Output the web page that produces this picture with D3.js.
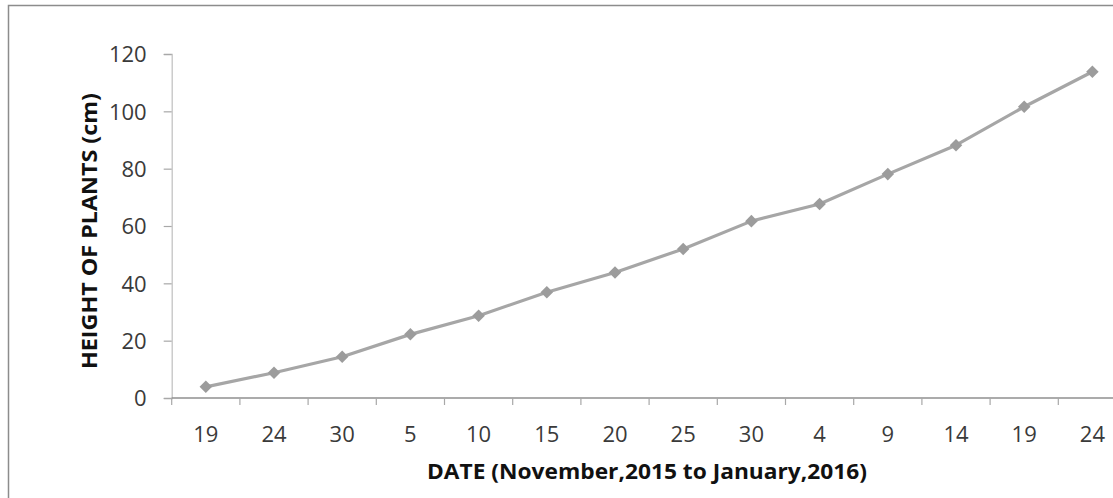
<!DOCTYPE html>
<html>
<head>
<meta charset="utf-8">
<script src="https://cdn.jsdelivr.net/npm/d3@7"></script>
<style>
  html, body { margin: 0; padding: 0; background: #fff; overflow: hidden; }
  svg { display: block; }
</style>
</head>
<body>
<svg id="chart" width="1113" height="498"></svg>
<script>
// Measurement dates (day of month, Nov 2015 – Jan 2016)
const dates = ["19", "24", "30", "5", "10", "15", "20", "25", "30", "4", "9", "14", "19", "24"];
// Mean plant height on each date (cm)
const heights = [3.9, 8.8, 14.4, 22.2, 28.7, 36.9, 43.8, 52.0, 61.7, 67.7, 78.1, 88.2, 101.6, 113.8];
// Y-axis tick values
const yTicks = [0, 20, 40, 60, 80, 100, 120];

const svg = d3.select("#chart");

// Chart frame (runs past the right and bottom edges)
svg.append("rect")
  .attr("x", 8.5).attr("y", 5.5)
  .attr("width", 1300).attr("height", 700)
  .attr("fill", "#fff")
  .attr("stroke", "#8c8c8c")
  .attr("stroke-width", 1.5);

const plotLeft = 171.7, plotRight = 1126.5, plotTop = 54, plotBottom = 398;

const idx = d3.range(dates.length);
const x = d3.scaleBand().domain(idx).range([plotLeft, plotRight]).paddingInner(0).paddingOuter(0);
const y = d3.scaleLinear().domain([0, 120]).range([plotBottom, plotTop]);

const tickFont = "'Open Sans', 'Liberation Sans', sans-serif";

// Y axis
const yAxis = d3.axisLeft(y).tickValues(yTicks).tickSize(8).tickPadding(17);
const gy = svg.append("g").attr("transform", `translate(${plotLeft},0)`).call(yAxis);
gy.select(".domain").attr("stroke", "#c4c4c4").attr("stroke-width", 1.3);
gy.selectAll(".tick line").attr("stroke", "#a8a8a8").attr("stroke-width", 1.2);
gy.selectAll(".tick text")
  .attr("fill", "#3a3a3a")
  .style("font-family", tickFont)
  .style("font-size", "22px")
  .attr("dy", "0.36em");

// X axis: ticks sit between categories, labels centred on each category
const boundaries = d3.range(dates.length + 1).map(i => plotLeft + i * x.bandwidth());
const gx = svg.append("g");
gx.append("line")
  .attr("x1", plotLeft).attr("x2", plotRight)
  .attr("y1", y(0)).attr("y2", y(0))
  .attr("stroke", "#8f8f8f").attr("stroke-width", 1.6);
gx.selectAll("line.tk").data(boundaries).join("line")
  .attr("class", "tk")
  .attr("x1", d => d).attr("x2", d => d)
  .attr("y1", y(0)).attr("y2", y(0) + 7)
  .attr("stroke", "#a8a8a8").attr("stroke-width", 1.2);
gx.selectAll("text").data(idx).join("text")
  .attr("x", i => x(i) + x.bandwidth() / 2)
  .attr("y", 442)
  .attr("text-anchor", "middle")
  .attr("fill", "#3a3a3a")
  .style("font-family", tickFont)
  .style("font-size", "22px")
  .text(i => dates[i]);

// Series line
const line = d3.line()
  .x((d, i) => x(i) + x.bandwidth() / 2)
  .y(d => y(d));
svg.append("path")
  .datum(heights)
  .attr("d", line)
  .attr("fill", "none")
  .attr("stroke", "#a6a6a6")
  .attr("stroke-width", 3.2)
  .attr("stroke-linejoin", "round");

// Diamond markers
const diamond = d3.symbol().type(d3.symbolDiamond2).size(100);
svg.selectAll("path.mk").data(heights).join("path")
  .attr("class", "mk")
  .attr("d", diamond)
  .attr("transform", (d, i) => `translate(${x(i) + x.bandwidth() / 2},${y(d)})`)
  .attr("fill", "#9c9c9c");

// Axis titles
svg.append("text")
  .attr("x", 647).attr("y", 479)
  .attr("text-anchor", "middle")
  .attr("fill", "#111")
  .attr("textLength", 440)
  .attr("lengthAdjust", "spacingAndGlyphs")
  .style("font-family", tickFont)
  .style("font-weight", "bold")
  .style("font-size", "22px")
  .text("DATE (November,2015 to January,2016)");

svg.append("text")
  .attr("transform", "translate(97,231) rotate(-90)")
  .attr("text-anchor", "middle")
  .attr("fill", "#111")
  .attr("textLength", 276)
  .attr("lengthAdjust", "spacingAndGlyphs")
  .style("font-family", tickFont)
  .style("font-weight", "bold")
  .style("font-size", "22px")
  .text("HEIGHT OF PLANTS (cm)");
</script>
</body>
</html>
